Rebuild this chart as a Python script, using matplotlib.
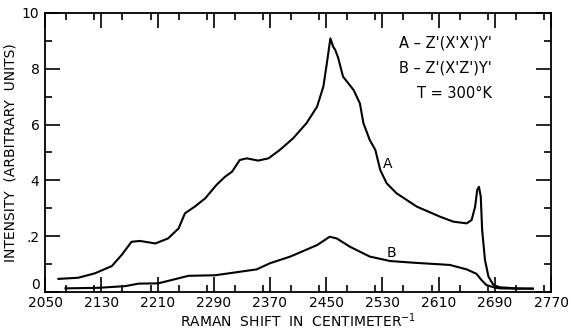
import matplotlib
matplotlib.use('Agg')
import matplotlib.pyplot as plt
from matplotlib.ticker import MultipleLocator

# curve A  -  Z'(X'X')Y'
a_x = [2069, 2097, 2121, 2145, 2159, 2173, 2185, 2207, 2225, 2240, 2249, 2263,
       2278, 2294, 2306, 2316, 2327, 2337, 2353, 2368, 2384, 2403, 2422, 2437,
       2446, 2451, 2456, 2460, 2463, 2467, 2474, 2489, 2498, 2503, 2512, 2520,
       2527, 2536, 2550, 2579, 2612, 2631, 2650, 2657, 2662, 2665, 2667.5, 2670,
       2672, 2676, 2681, 2688, 2697, 2720, 2744]
a_y = [0.47, 0.51, 0.67, 0.93, 1.33, 1.80, 1.83, 1.74, 1.92, 2.28, 2.82, 3.06,
       3.36, 3.84, 4.13, 4.31, 4.73, 4.79, 4.71, 4.79, 5.09, 5.51, 6.05, 6.64,
       7.36, 8.20, 9.09, 8.79, 8.67, 8.40, 7.72, 7.24, 6.76, 6.05, 5.45, 5.09,
       4.37, 3.90, 3.54, 3.06, 2.70, 2.52, 2.46, 2.58, 3.06, 3.66, 3.77, 3.42,
       2.22, 1.15, 0.55, 0.25, 0.17, 0.13, 0.12]

# curve B  -  Z'(X'Z')Y'
b_x = [2079, 2126, 2164, 2183, 2211, 2235, 2254, 2292, 2351, 2370, 2399, 2437,
       2455, 2465, 2484, 2512, 2541, 2574, 2626, 2650, 2664, 2671, 2678, 2688,
       2697, 2720, 2744]
b_y = [0.13, 0.15, 0.21, 0.30, 0.31, 0.46, 0.58, 0.60, 0.81, 1.03, 1.27, 1.68,
       1.98, 1.92, 1.62, 1.27, 1.11, 1.05, 0.97, 0.81, 0.65, 0.43, 0.25, 0.17,
       0.13, 0.12, 0.12]

x_ticks = list(range(2050, 2771, 80))
y_ticks = [0, 2, 4, 6, 8, 10]
y_labels = ['0', '.2', '4', '6', '8', '10']

fig = plt.figure(figsize=(5.71, 3.32), dpi=100)
ax = fig.add_axes([0.079, 0.1205, 0.886, 0.8404])

ax.plot(a_x, a_y, c='black', lw=1.5)
ax.plot(b_x, b_y, c='black', lw=1.5)

ax.set_xlim(2050, 2770)
ax.set_ylim(0, 10)
ax.set_xticks(x_ticks)
ax.set_yticks(y_ticks)
ax.set_yticklabels(y_labels)
ax.get_yticklabels()[0].set_va('bottom')
ax.xaxis.set_minor_locator(MultipleLocator(40))
ax.yaxis.set_minor_locator(MultipleLocator(1))
ax.tick_params(which='both', direction='in', top=True, right=True,
               width=1.2, labelsize=10)
ax.tick_params(axis='x', pad=3)
ax.tick_params(axis='y', pad=4)
ax.tick_params(which='major', length=11)
ax.tick_params(which='minor', length=5)
for s in ax.spines.values():
    s.set_linewidth(1.3)

ax.text(2538, 4.6, 'A', fontsize=10, ha='center', va='center')
ax.text(2543, 1.4, 'B', fontsize=10, ha='center', va='center')
ax.text(2686, 8.92, "A – Z'(X'X')Y'", fontsize=10.5, ha='right', va='center')
ax.text(2686, 8.03, "B – Z'(X'Z')Y'", fontsize=10.5, ha='right', va='center')
ax.text(2686, 7.13, 'T = 300°K', fontsize=10.5, ha='right', va='center')

ax.set_xlabel('RAMAN  SHIFT  IN  CENTIMETER$^{-1}$', fontsize=10, labelpad=1)
ax.set_ylabel('INTENSITY  (ARBITRARY  UNITS)', fontsize=10, labelpad=3)

fig.savefig('out.png', dpi=100)
